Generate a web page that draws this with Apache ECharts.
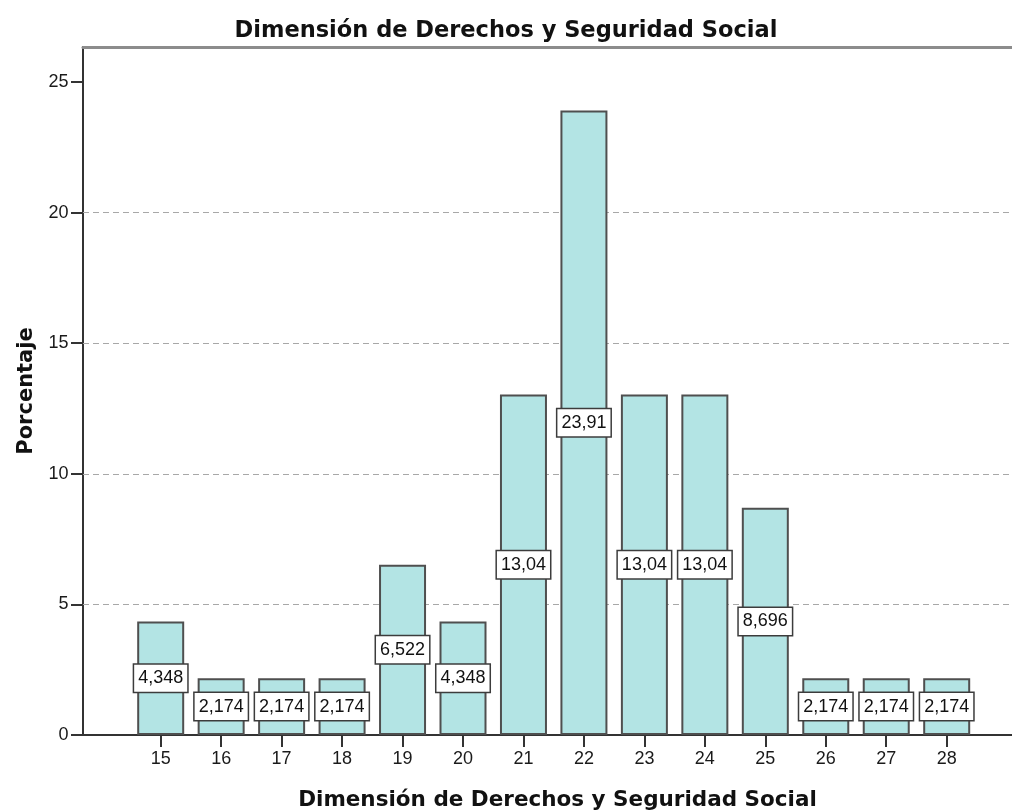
<!DOCTYPE html>
<html>
<head>
<meta charset="utf-8">
<script src="https://cdn.jsdelivr.net/npm/echarts@6/dist/echarts.min.js"></script>
<style>
  html, body { margin: 0; padding: 0; background: #ffffff; }
  #chart { width: 1012px; height: 810px; }
</style>
</head>
<body>
<div id="chart"></div>
<script>
// Puntajes de la dimensión y porcentaje de casos en cada uno
const categories = [15, 16, 17, 18, 19, 20, 21, 22, 23, 24, 25, 26, 27, 28];
const percentages = [4.348, 2.174, 2.174, 2.174, 6.522, 4.348, 13.04, 23.91, 13.04, 13.04, 8.696, 2.174, 2.174, 2.174];
const yTicks = [0, 5, 10, 15, 20, 25];
const gridValues = [5, 10, 15, 20];
const chartTitle = 'Dimensión de Derechos y Seguridad Social';
const xAxisTitle = 'Dimensión de Derechos y Seguridad Social';
const yAxisTitle = 'Porcentaje';

const tickFont = 'Liberation Sans, Arial, sans-serif';
const headFont = 'DejaVu Sans, sans-serif';
const axisColor = '#333333';

// Etiqueta con coma decimal y cuatro cifras significativas
const fmt = v => Number(v).toPrecision(4).replace('.', ',');

const chart = echarts.init(document.getElementById('chart'), null, { renderer: 'canvas' });

const option = {
  animation: false,
  backgroundColor: '#ffffff',
  title: {
    text: chartTitle,
    left: 'center',
    top: 19.5,
    padding: 0,
    textStyle: { fontFamily: headFont, fontWeight: 'bold', fontSize: 22.5, color: '#111111' }
  },
  grid: { left: 83, right: 0, top: 47, bottom: 75, containLabel: false, outerBoundsMode: 'none' },
  xAxis: [
    {
      type: 'value',
      min: 13.715,
      max: 29.08,
      position: 'bottom',
      name: xAxisTitle,
      nameLocation: 'middle',
      nameGap: 54,
      nameTextStyle: {
        fontFamily: headFont, fontWeight: 'bold', fontSize: 21.5, color: '#111111',
        padding: [0, 0, 0, 20]
      },
      axisLine: { show: true, onZero: false, lineStyle: { color: axisColor, width: 2 } },
      axisTick: { show: true, customValues: categories, length: 12, lineStyle: { color: axisColor, width: 2 } },
      axisLabel: { customValues: categories, margin: 15, fontFamily: tickFont, fontSize: 18, color: '#1a1a1a' },
      splitLine: { show: false }
    },
    {
      // borde superior del área de trazado
      type: 'value',
      min: 13.715,
      max: 29.08,
      position: 'top',
      axisLine: { show: true, onZero: false, lineStyle: { color: '#8c8c8c', width: 3 } },
      axisTick: { show: false },
      axisLabel: { show: false },
      splitLine: { show: false }
    }
  ],
  yAxis: {
    type: 'value',
    min: 0,
    max: 26.34,
    name: yAxisTitle,
    nameLocation: 'middle',
    nameGap: 46,
    nameTextStyle: { fontFamily: headFont, fontWeight: 'bold', fontSize: 21, color: '#111111' },
    axisLine: { show: true, onZero: false, lineStyle: { color: axisColor, width: 2 } },
    axisTick: { show: true, customValues: yTicks, length: 12, lineStyle: { color: axisColor, width: 2 } },
    axisLabel: { customValues: yTicks, margin: 14.5, fontFamily: tickFont, fontSize: 18, color: '#1a1a1a' },
    splitLine: { show: false }
  },
  series: [
    {
      // líneas de referencia horizontales
      type: 'line',
      data: [],
      silent: true,
      z: 1,
      markLine: {
        silent: true,
        z: 1,
        symbol: 'none',
        label: { show: false },
        lineStyle: { type: [6, 4], color: '#a8a8a8', width: 1 },
        data: gridValues.map(v => ({ yAxis: v }))
      }
    },
    {
      type: 'bar',
      z: 3,
      data: categories.map((c, i) => [c, percentages[i]]),
      barWidth: 47,
      itemStyle: { color: '#b3e4e4', borderColor: '#4f4f4f', borderWidth: 2 },
      label: {
        show: true,
        position: 'inside',
        formatter: p => fmt(p.value[1]),
        backgroundColor: '#ffffff',
        borderColor: '#3c3c3c',
        borderWidth: 1.5,
        padding: [5, 4, 4, 4],
        fontFamily: tickFont,
        fontSize: 18,
        color: '#111111'
      }
    }
  ]
};

chart.setOption(option);
</script>
</body>
</html>
